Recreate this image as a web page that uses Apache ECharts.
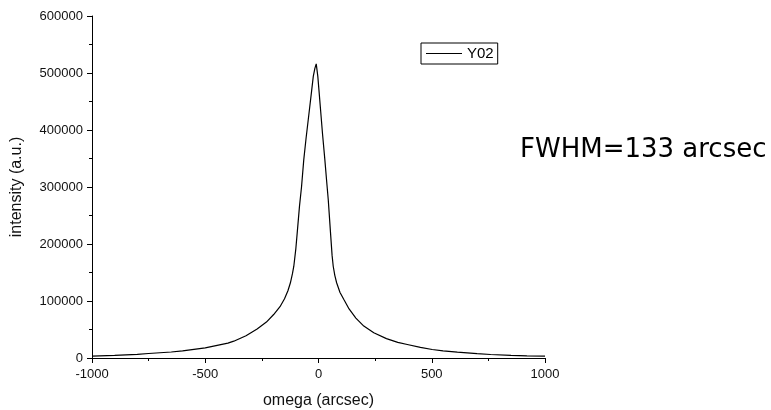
<!DOCTYPE html>
<html>
<head>
<meta charset="utf-8">
<script src="https://cdn.jsdelivr.net/npm/echarts@6/dist/echarts.min.js"></script>
<style>
  html, body { margin: 0; padding: 0; background: #fff; }
  #main { width: 771px; height: 410px; }
</style>
</head>
<body>
<div id="main"></div>
<script>
// rocking curve
var omega = [-1000, -900, -800, -750, -650, -600, -500, -400, -374, -320, -271, -230, -198, -170, -150, -135, -124, -115, -109, -100, -94, -84, -75, -65, -55, -40, -30, -23, -16, -10, -3, 2, 9, 18, 28, 36, 43, 53, 60, 65, 72, 80, 95, 112, 135, 165, 200, 244, 300, 350, 392, 450, 502, 550, 613, 700, 760, 850, 920, 1000];
var intensity = [3200, 4600, 6500, 7900, 10500, 12500, 17900, 26000, 29500, 39000, 51000, 63000, 76300, 90000, 104000, 118000, 132000, 148000, 161000, 192000, 219600, 266000, 300000, 348000, 385000, 436000, 470000, 494000, 508000, 516000, 494000, 470000, 436000, 392000, 348000, 310000, 278000, 220000, 180000, 161000, 145000, 132000, 115000, 102600, 86000, 70000, 56000, 44200, 34000, 27500, 23700, 18500, 14900, 12500, 10200, 7600, 6100, 4700, 3900, 3200];
var seriesName = 'Y02';
var xName = 'omega (arcsec)';
var yName = 'intensity (a.u.)';
var note = 'FWHM=133 arcsec';

var points = omega.map(function (x, i) { return [x, intensity[i]]; });

var axisCommon = {
  axisLine: { show: true, onZero: false, lineStyle: { color: '#000', width: 1 } },
  axisTick: { show: true, inside: false, length: 5, lineStyle: { color: '#000' } },
  minorTick: { show: true, splitNumber: 2, length: 3, lineStyle: { color: '#000' } },
  splitLine: { show: false },
  axisLabel: {
    color: '#111', fontSize: 13, fontFamily: 'Liberation Sans',
    formatter: function (v) { return String(v); }
  },
  nameLocation: 'middle',
  nameTextStyle: { color: '#111', fontSize: 16, fontFamily: 'Liberation Sans' }
};

var chart = echarts.init(document.getElementById('main'));
chart.setOption({
  animation: false,
  backgroundColor: '#fff',
  grid: { left: 92, right: 226, top: 16, bottom: 52, containLabel: false, outerBoundsMode: 'none' },
  xAxis: Object.assign({}, axisCommon, {
    type: 'value', min: -1000, max: 1000, interval: 500,
    name: xName, nameGap: 35,
    axisLabel: Object.assign({}, axisCommon.axisLabel, { margin: 10 })
  }),
  yAxis: Object.assign({}, axisCommon, {
    type: 'value', min: 0, max: 600000, interval: 100000,
    name: yName, nameGap: 67,
    axisLabel: Object.assign({}, axisCommon.axisLabel, { margin: 9 })
  }),
  legend: {
    left: 421, top: 43,
    padding: [3, 4, 3, 5],
    borderColor: '#000', borderWidth: 1, borderRadius: 0,
    icon: 'rect', itemWidth: 36, itemHeight: 1, itemGap: 4,
    textStyle: { color: '#000', fontSize: 15, fontFamily: 'Liberation Sans' },
    data: [seriesName]
  },
  graphic: [{
    type: 'text', left: 520, top: 137,
    style: { text: note, fill: '#000', fontSize: 26, fontFamily: 'DejaVu Sans' }
  }],
  series: [{
    name: seriesName, type: 'line', data: points,
    symbol: 'none', smooth: false,
    lineStyle: { color: '#000', width: 1.2 },
    itemStyle: { color: '#000' }
  }]
});
</script>
</body>
</html>
